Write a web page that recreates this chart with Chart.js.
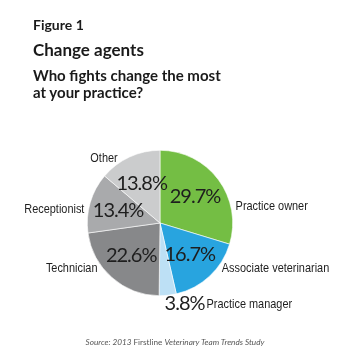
<!DOCTYPE html>
<html>
<head>
<meta charset="utf-8">
<script src="https://cdn.jsdelivr.net/npm/chart.js@4"></script>
<style>
  html, body { margin: 0; padding: 0; background: #fff; }
  #wrap { position: relative; width: 350px; height: 362px; overflow: hidden; }
  #pie { position: absolute; left: 0; top: 0; }
  .t { position: absolute; left: 33px; color: #1a1a1a; font-family: Lato, "Open Sans", sans-serif; font-weight: bold; white-space: nowrap; }
  #fig { top: 16px; font-size: 14px; }
  #head { top: 39px; font-size: 17px; }
  #question { top: 67px; font-size: 15px; line-height: 17px; }
  #source { position: absolute; left: 0; width: 350px; top: 337px; text-align: center; font-family: Lato, sans-serif; font-size: 8.2px; color: #555; }
  #source i { font-style: italic; }
</style>
</head>
<body>
<div id="wrap">
  <canvas id="pie" width="350" height="362"></canvas>
  <div class="t" id="fig">Figure 1</div>
  <div class="t" id="head">Change agents</div>
  <div class="t" id="question">Who fights change the most<br>at your practice?</div>
  <div id="source"><i>Source: 2013</i> Firstline <i>Veterinary Team Trends Study</i></div>
</div>
<script>
// Survey answers, clockwise from 12 o'clock
var roles = ["Practice owner", "Associate veterinarian", "Practice manager", "Technician", "Receptionist", "Other"];
var shares = [29.7, 16.7, 3.8, 22.6, 13.4, 13.8];
var sliceColors = ["#74be44", "#28a4df", "#bde0f5", "#87888a", "#a9aaac", "#cbcccd"];

// where each role name sits, in pie radii from the centre (x, y) and its alignment
var nameSpots = [[1.04, -0.23, "left"], [0.85, 0.62, "left"], [0.64, 1.12, "left"], [-0.86, 0.63, "right"], [-1.04, -0.19, "right"], [-0.77, -0.89, "center"]];

var pctFont = "20px Lato, sans-serif";
var nameFont = "13px 'Liberation Sans Narrow', Arial, sans-serif";
var nameSquash = 0.84;

// role names are set in a condensed face, squeezed sideways
function drawName(ctx, text, x, y, align) {
    ctx.save();
    ctx.translate(x, y);
    ctx.scale(nameSquash, 1);
    ctx.font = nameFont;
    ctx.textAlign = align;
    ctx.fillText(text, 0, 0);
    ctx.restore();
}

// writes the percentages inside the slices and the role names around the pie
var pieLabels = {
    id: "pieLabels",
    afterDatasetsDraw: function (chart) {
        var ctx = chart.ctx;
        var arcs = chart.getDatasetMeta(0).data;
        ctx.save();
        ctx.fillStyle = "#1e1e1e";
        ctx.textBaseline = "middle";
        arcs.forEach(function (arc, i) {
            var cx = arc.x, cy = arc.y, r = arc.outerRadius;
            var mid = (arc.startAngle + arc.endAngle) / 2;
            var pct = shares[i].toFixed(1) + "%";
            var spot = nameSpots[i];
            var nx = cx + spot[0] * r, ny = cy + spot[1] * r;
            ctx.font = pctFont;
            ctx.letterSpacing = "-1px";
            if (shares[i] < 5) {
                // too thin for the number, so it goes outside next to the name
                ctx.textAlign = "right";
                ctx.fillText(pct, nx - 2, ny - 1);
            } else {
                ctx.textAlign = "center";
                ctx.fillText(pct, cx + Math.cos(mid) * r * 0.6, cy + Math.sin(mid) * r * 0.6);
            }
            ctx.letterSpacing = "0px";
            drawName(ctx, roles[i], nx, ny, spot[2]);
        });
        ctx.restore();
    }
};

var pieChart = new Chart(document.getElementById("pie").getContext("2d"), {
    type: "pie",
    data: {
        labels: roles,
        datasets: [{
            data: shares,
            backgroundColor: sliceColors,
            borderColor: "#ffffff",
            borderWidth: 0.6
        }]
    },
    options: {
        responsive: false,
        animation: false,
        events: [],
        layout: { padding: { left: 87, right: 117, top: 150, bottom: 66 } },
        plugins: {
            legend: { display: false },
            tooltip: { enabled: false }
        }
    },
    plugins: [pieLabels]
});
</script>
</body>
</html>
